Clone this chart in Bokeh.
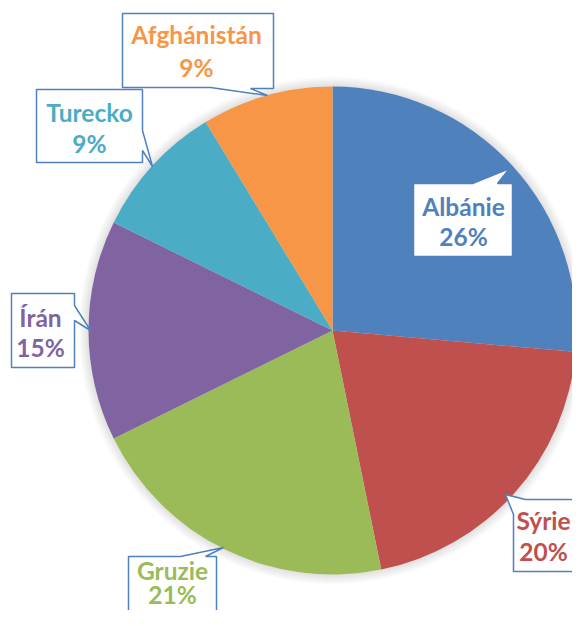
import math
from bokeh.plotting import figure
from bokeh.models import ColumnDataSource, Range1d
from bokeh.core.properties import value
from bokeh.embed import file_html
from bokeh.resources import INLINE

# ---- data ----
categories = ["Albánie", "Sýrie", "Gruzie", "Írán", "Turecko", "Afghánistán"]
shares = [26.4, 20.4, 20.9, 14.6, 9.0, 8.7]
colors = ["#4F81BD", "#C0504D", "#9BBB59", "#8064A2", "#4BACC6", "#F79646"]

# ---- layout (pixel coords of the picture) ----
PW, PH = 572, 610
H = 626
CX, CY, R = 332, 330, 244
BORDER = "#4F81BD"
FONT = "Lato"
FONT_SIZE = "24.5px"


def Y(py):
    return H - py


p = figure(width=PW, height=PH, output_backend="svg", toolbar_location=None,
           x_range=Range1d(0, PW), y_range=Range1d(H - PH, H), min_border=0,
           outline_line_color=None, background_fill_color="white",
           border_fill_color="white")
p.axis.visible = False
p.xgrid.visible = False
p.ygrid.visible = False

# soft shadow around pie
for k in range(1, 11):
    p.circle(x=[CX], y=[Y(CY)], radius=R + k, fill_color="black",
             fill_alpha=0.013, line_color=None)

# wedges
total = sum(shares)
starts, ends = [], []
cum = 0.0
for s in shares:
    starts.append(math.pi / 2 - 2 * math.pi * cum / total)
    cum += s
    ends.append(math.pi / 2 - 2 * math.pi * cum / total)
src = ColumnDataSource(dict(x=[CX] * len(shares), y=[Y(CY)] * len(shares),
                            start=starts, end=ends, color=colors))
p.wedge(x="x", y="y", radius=R, start_angle="start", end_angle="end",
        direction="clock", fill_color="color", line_color=None, source=src)

# callout boxes (pixel polygons): layout only
callouts = {
    "Afghánistán": [(122, 13), (273, 13), (273, 88), (250, 88), (267, 95), (210, 87), (122, 87)],
    "Turecko": [(36, 89), (142, 89), (142, 130), (152, 166), (142, 150), (142, 162), (36, 162)],
    "Albánie": [(413, 183), (472, 183), (509, 168), (497, 183), (512, 183), (512, 256), (413, 256)],
    "Írán": [(11, 293), (74, 293), (74, 305), (90, 330), (74, 320), (74, 367), (11, 367)],
    "Sýrie": [(513, 571), (513, 514), (505, 494), (525, 499), (578, 499), (578, 571)],
    "Gruzie": [(128, 640), (128, 556), (180, 556), (223, 547), (205, 556), (216, 556), (216, 640)],
}
# (center x, middle of line 1, middle of line 2)
label_pos = {
    "Afghánistán": (196, 34, 67),
    "Turecko": (89, 112, 143),
    "Albánie": (463, 206, 236),
    "Írán": (40, 317, 347),
    "Sýrie": (543, 520, 551),
    "Gruzie": (172, 570, 594),
}

xs, ys = [], []
for c in categories:
    poly = callouts[c]
    xs.append([pt[0] for pt in poly])
    ys.append([Y(pt[1]) for pt in poly])
p.patches(xs=xs, ys=ys, fill_color="white", line_color=BORDER, line_width=1.5)

tx, ty, tt, tc = [], [], [], []
for c, s, col in zip(categories, shares, colors):
    cx, b1, b2 = label_pos[c]
    pct = f"{round(100 * s / total)}%"
    tx += [cx, cx]
    ty += [Y(b1), Y(b2)]
    tt += [c, pct]
    tc += [col, col]
p.text(x=tx, y=ty, text=tt, text_color=tc, text_font=value(FONT),
       text_font_style="bold", text_font_size=FONT_SIZE, text_align="center",
       text_baseline="middle")

open("out.html", "w").write(file_html(p, INLINE))
